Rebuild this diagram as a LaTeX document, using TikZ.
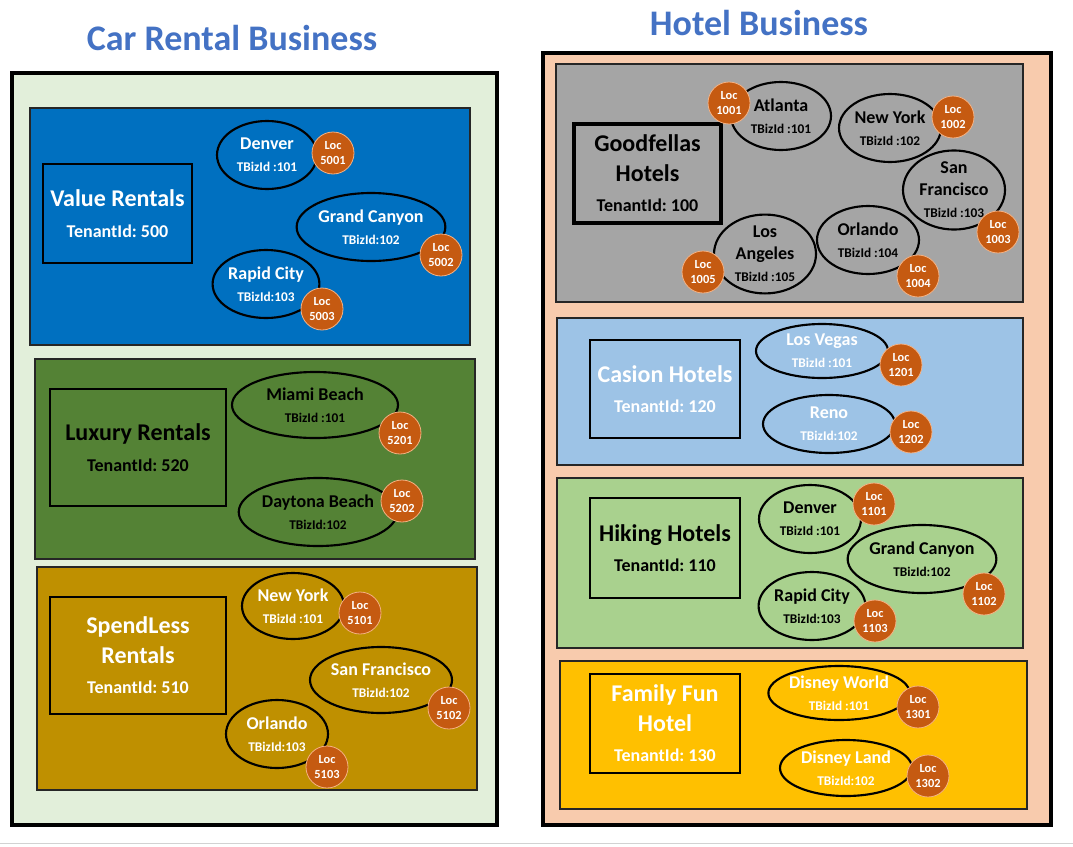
\documentclass[tikz,border=0pt]{standalone}
\usepackage{fontspec}
\setmainfont{Carlito}
\usetikzlibrary{shapes.geometric}
\frenchspacing
\definecolor{titleblue}{HTML}{4472C4}
\definecolor{leftbg}{HTML}{E2EFDA}
\definecolor{rightbg}{HTML}{F8CBAD}
\definecolor{valueblue}{HTML}{0070C0}
\definecolor{luxgreen}{HTML}{548235}
\definecolor{spendgold}{HTML}{BF9000}
\definecolor{goodgray}{HTML}{A5A5A5}
\definecolor{casblue}{HTML}{9DC3E6}
\definecolor{hikegreen}{HTML}{A9D18E}
\definecolor{famgold}{HTML}{FFC000}
\definecolor{locorange}{HTML}{C55A11}
\definecolor{locedge}{HTML}{F4B183}
\newcommand{\bizid}[1]{{\fontsize{10}{16.5}\selectfont #1}}
\newcommand{\tenant}[2]{#1\\[1pt]{\fontsize{13.5}{22}\selectfont TenantId: #2}}
\begin{document}
\begin{tikzpicture}[x=0.75pt,y=-0.75pt,
 outerbox/.style={draw=black,line width=2.7pt},
 panel/.style={draw=black!85,line width=1.5pt},
 tenantbox/.style={rectangle,draw=black,inner sep=0pt,align=center,
  font=\bfseries\fontsize{18}{22}\selectfont},
 city/.style={ellipse,draw=black,line width=1.6pt,inner sep=0pt,align=center,
  font=\bfseries\fontsize{13.5}{16.5}\selectfont},
 loc/.style={circle,fill=locorange,draw=locedge,line width=0.6pt,text=white,
  minimum size=31.5pt,inner sep=0pt,align=center,font=\bfseries\fontsize{9.3}{10.8}\selectfont},
 heading/.style={anchor=base,text=titleblue,font=\bfseries\fontsize{27}{32}\selectfont}]
\useasboundingbox (0,0) rectangle (1073,846);
\draw[gray!35] (0,843) -- (1073,843);

% the two businesses
\node[heading] (cartitle) at (232,50) {Car Rental Business};
\node[heading] (hoteltitle) at (759,36) {Hotel Business};
\draw[outerbox,fill=leftbg] (12,73) rectangle (497,825);
\draw[outerbox,fill=rightbg] (543,53) rectangle (1051,825);

% tenants
\foreach \x/\y/\X/\Y/\c in {30/108/470/345/valueblue, 35/359/475/559/luxgreen,
  37/567/477/790/spendgold, 556/64/1023/302/goodgray, 557/318/1023/465/casblue,
  557/478/1023/648/hikegreen, 560/661/1027/809/famgold}
 \draw[panel,fill=\c] (\x,\y) rectangle (\X,\Y);

\foreach \n/\x/\y/\w/\h/\lw/\c/\t in {
  vr/117.5/213.5/149/99/1.5/white/{\tenant{Value Rentals}{500}},
  lr/138/447.5/176/117/1.5/black/{\tenant{Luxury Rentals}{520}},
  sr/138/655.5/176/117/1.5/white/{\tenant{SpendLess\\Rentals}{510}},
  gh/647.5/173.5/147/99/2.3/black/{\tenant{Goodfellas\\Hotels}{100}},
  ch/665/389/150/98/1.5/white/{\tenant{Casion Hotels}{120}},
  hh/665/548/150/100/1.5/black/{\tenant{Hiking Hotels}{110}},
  ff/665/723.5/150/99/1.5/white/{\tenant{Family Fun\\Hotel}{130}}}
 \node[tenantbox,line width=\lw pt,text=\c,minimum width=\w*0.75pt,minimum height=\h*0.75pt] (\n) at (\x,\y) {\t};

% businesses of each tenant
\foreach \n/\x/\y/\rx/\ry/\c/\t/\b in {
  vden/267/155/50/34/white/Denver/{TBizId :101},
  vgc/371/227/71/34/white/{Grand Canyon}/{TBizId:102},
  vrc/266/284/51/34/white/{Rapid City}/{TBizId:103},
  lmb/315/405/83/33/black/{Miami Beach}/{TBizId :101},
  ldb/318/512/76/34/black/{Daytona Beach}/{TBizId:102},
  sny/293/606/51/33/white/{New York}/{TBizId :101},
  ssf/381/680/71/33/white/{San Francisco}/{TBizId:102},
  sorl/277/734/51/34/white/Orlando/{TBizId:103},
  gatl/781/116/50/34/black/Atlanta/{TBizId :101},
  gny/890/128/51/34/black/{New York}/{TBizId :102},
  gsf/954/190/51/34/black/{San\\Francisco}/{TBizId :103},
  gorl/868/240/51/34/black/Orlando/{TBizId :104},
  gla/765/254/51/34/black/{Los\\Angeles}/{TBizId :105},
  clv/822/351/66/27/white/{Los Vegas}/{TBizId :101},
  creno/829/424/66/29/white/Reno/{TBizId:102},
  hden/810/519/51/34/black/Denver/{TBizId :101},
  hgc/922/559/71/34/black/{Grand Canyon}/{TBizId:102},
  hrc/812/606/51/34/black/{Rapid City}/{TBizId:103},
  fdw/839/693/66/27/white/{Disney World}/{TBizId :101},
  fdl/846/768/66/28/white/{Disney Land}/{TBizId:102}}
 \node[city,text=\c,minimum width=\rx*1.5pt,minimum height=\ry*1.5pt] (\n) at (\x,\y) {\t\\\bizid{\b}};

% location ids
\foreach \x/\y/\id in {333/153/5001, 441/255/5002, 322/309/5003, 400/433/5201,
  402/501/5202, 360/613/5101, 449/708/5102, 327/767/5103, 729/103/1001,
  953/117/1002, 998/232/1003, 918/276/1004, 703/272/1005, 901/365/1201,
  911/432/1202, 874/504/1101, 984/594/1102, 875/621/1103, 918/707/1301, 928/776/1302}
 \node[loc] (loc\id) at (\x,\y) {Loc\\\id};
\end{tikzpicture}
\end{document}
